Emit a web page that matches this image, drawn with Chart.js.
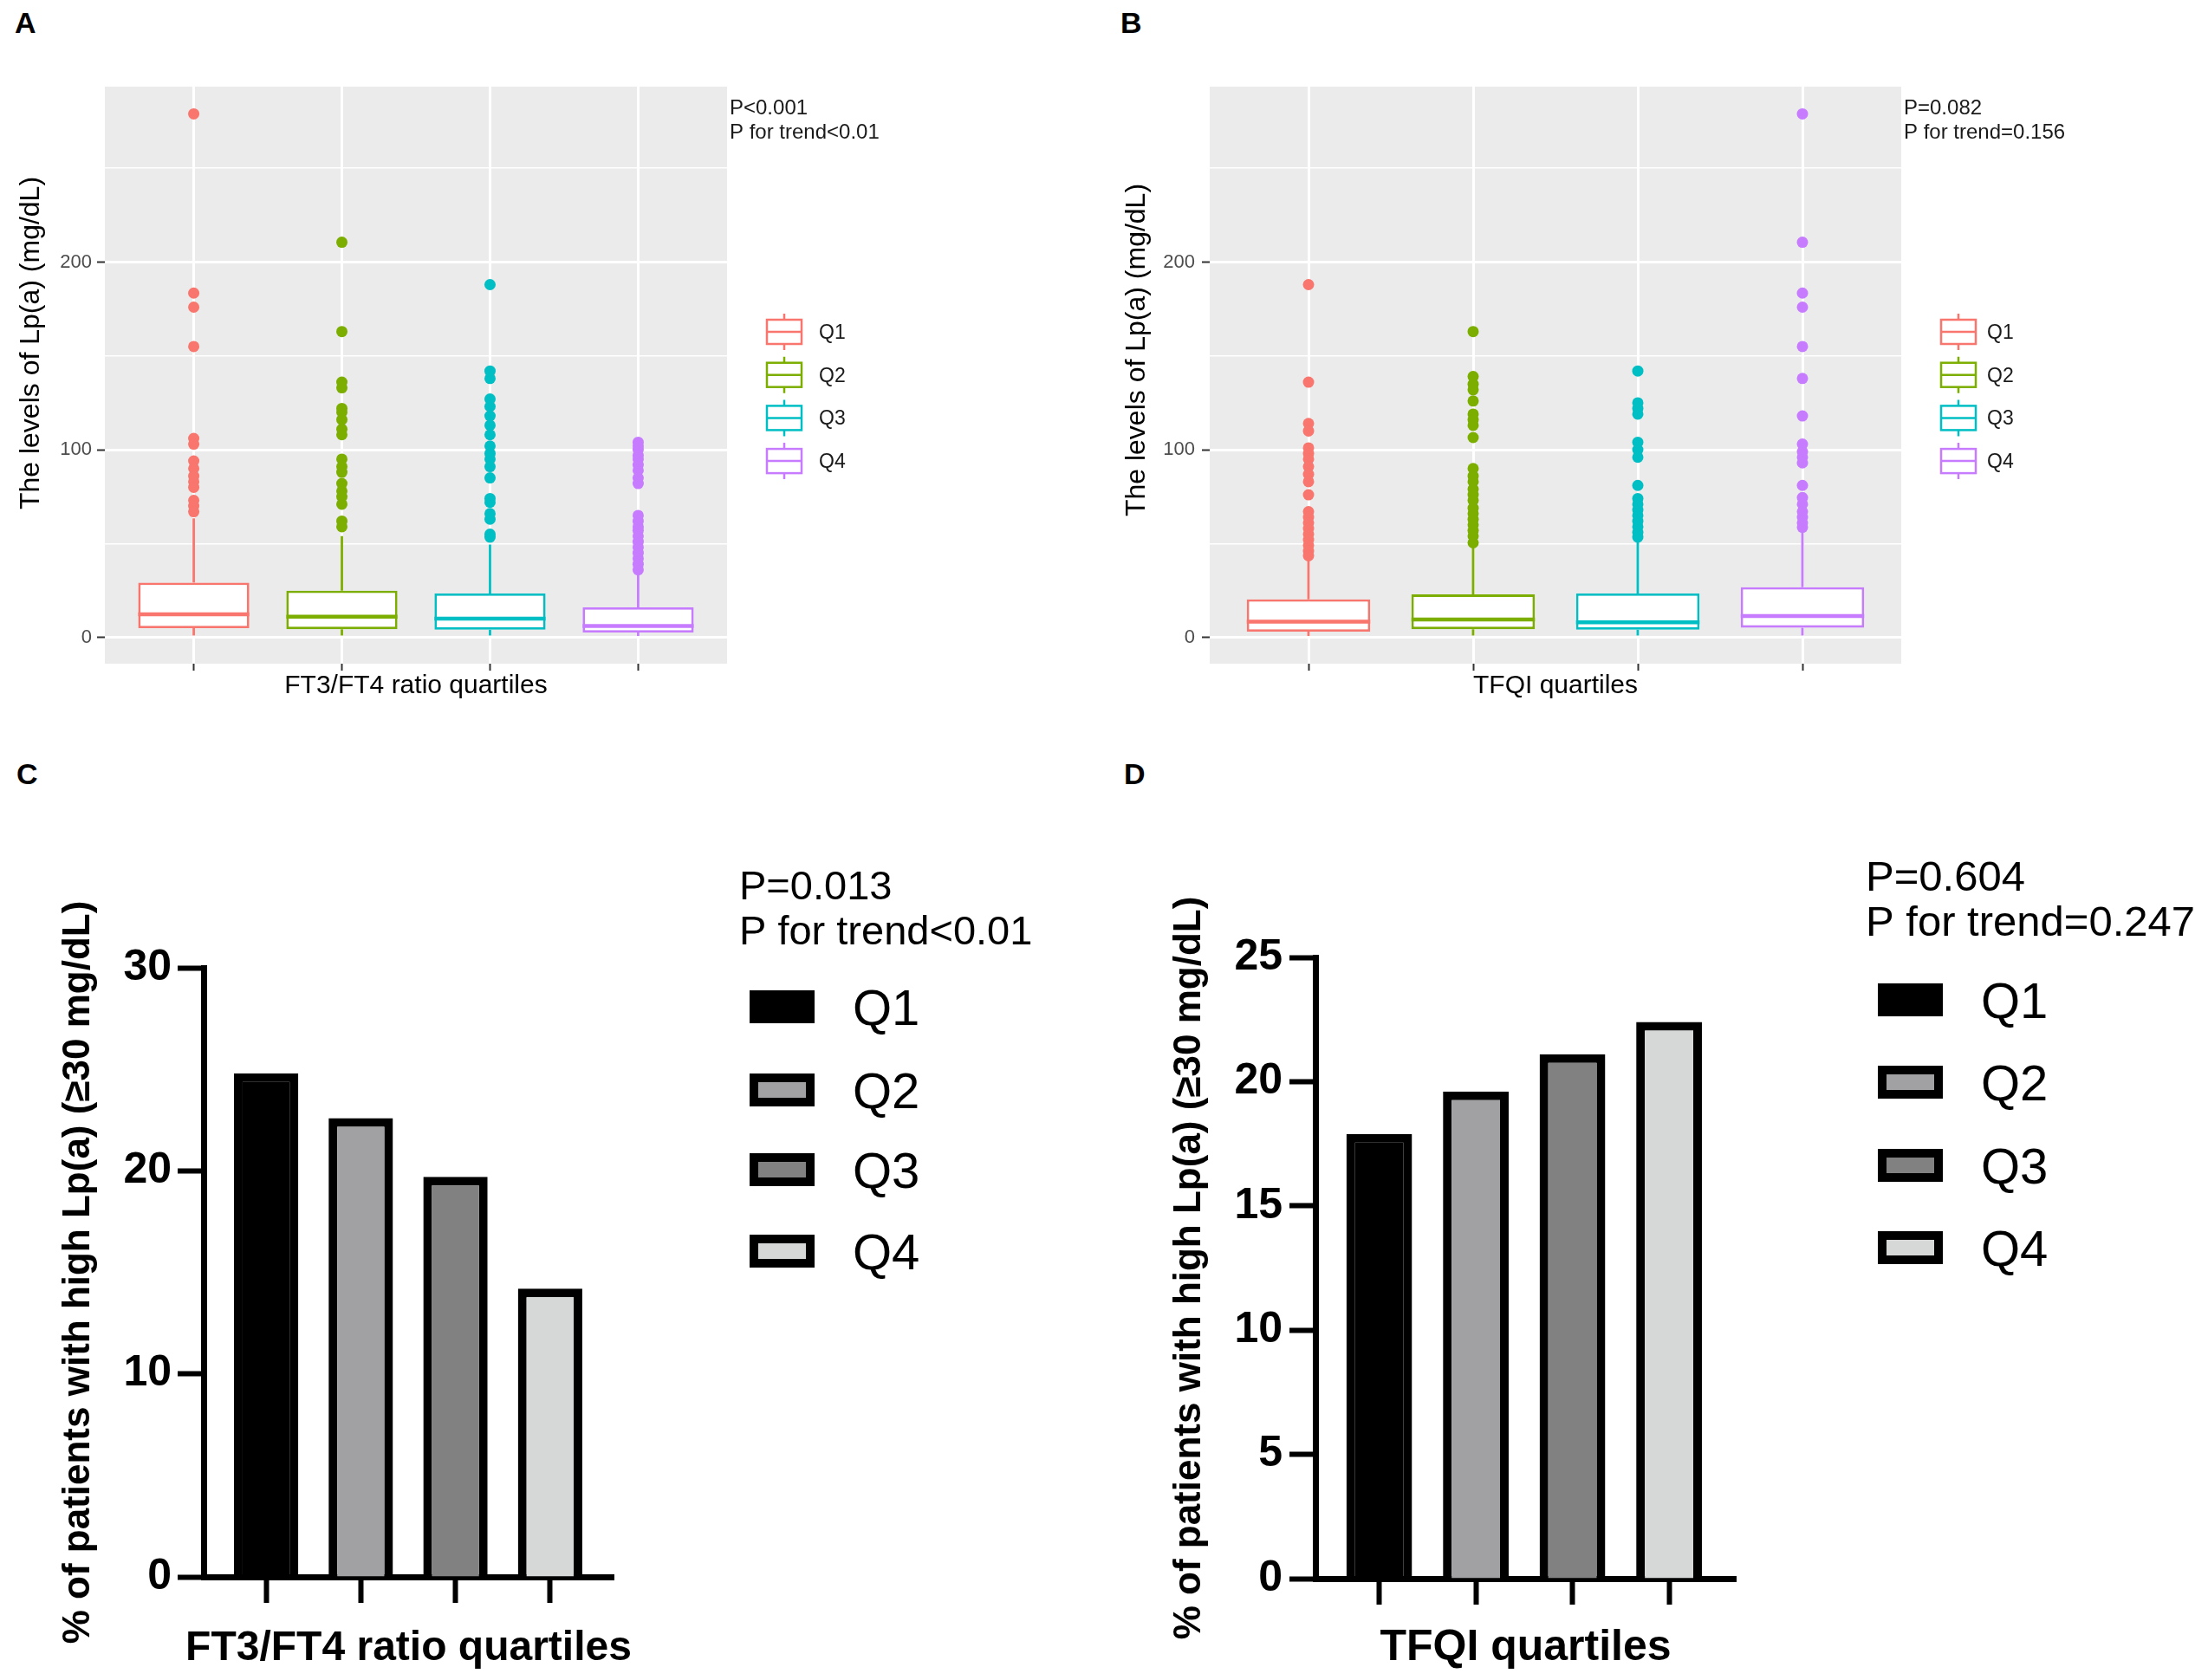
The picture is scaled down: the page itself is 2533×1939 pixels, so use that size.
<!DOCTYPE html>
<html>
<head>
<meta charset="utf-8">
<script src="https://cdn.jsdelivr.net/npm/chart.js@4.4.0/dist/chart.umd.min.js"></script>
<style>
  body { margin: 0; background: #fff; width: 2533px; height: 1939px; position: relative; overflow: hidden; }
  .pane { position: absolute; }
  .tag { position: absolute; font: bold 34px "Liberation Sans", Arial, sans-serif; line-height: 34px; color: #000; }
</style>
</head>
<body>
<div class="tag" style="left:17px;top:9px">A</div>
<div class="tag" style="left:1293px;top:9px">B</div>
<div class="tag" style="left:19px;top:876px">C</div>
<div class="tag" style="left:1297px;top:876px">D</div>

<div class="pane" style="left:0;top:0"><canvas id="chartA" width="1266" height="860"></canvas></div>
<div class="pane" style="left:1266px;top:0"><canvas id="chartB" width="1267" height="860"></canvas></div>
<div class="pane" style="left:0;top:860px"><canvas id="chartC" width="1266" height="1079"></canvas></div>
<div class="pane" style="left:1266px;top:860px"><canvas id="chartD" width="1267" height="1079"></canvas></div>

<script>
const FONT = '"Liberation Sans", Arial, Helvetica, sans-serif';

// groups
const quartiles = ['Q1', 'Q2', 'Q3', 'Q4'];
const boxColors = ['#F8766D', '#7CAE00', '#00BFC4', '#C77CFF'];
const barFills = ['#000000', '#A1A1A4', '#818181', '#D6D7D7'];

// A: Lp(a) by FT3/FT4 ratio quartiles -> [lower whisker, Q1, median, Q3, upper whisker]
const ratioBoxStats = [
  [1.0, 4.9, 12.3, 29.2, 63.5],
  [1.0, 4.4, 11.1, 24.9, 54.0],
  [1.0, 4.1, 10.0, 23.4, 49.5],
  [0.8, 2.6, 6.1, 16.0, 34.0]
];
const ratioOutliers = [
  [279, 183.5, 176, 155, 106, 103, 94, 90, 86, 83, 80, 73, 70, 67],
  [210.6, 163, 136, 133, 122, 120, 116, 111, 108, 95, 91, 88, 82, 78, 75, 71, 62, 59],
  [188, 142, 138, 127, 123, 118, 113, 108, 102, 98, 95, 91, 85, 74, 72, 66, 63, 55, 53.4],
  [104, 102, 100, 97, 95, 92, 89, 85, 82, 65, 62, 59, 57, 54, 51, 48, 45, 42, 39, 36]
];

// B: Lp(a) by TFQI quartiles
const tfqiBoxStats = [
  [0.8, 3.1, 8.4, 20.3, 41.8],
  [1.0, 4.4, 9.5, 22.9, 48.7],
  [1.0, 4.1, 8.0, 23.4, 51.8],
  [1.0, 5.2, 11.4, 26.8, 57.2]
];
const tfqiOutliers = [
  [188, 136, 114, 110, 101, 98, 95, 91, 87, 83, 76, 67, 64, 61, 58, 55, 52, 49, 46, 43.5],
  [163, 139, 135, 132, 126, 119, 116, 113, 106.5, 90, 86, 83, 79, 76, 73, 69, 66, 63, 60, 57, 54, 50.4],
  [142, 125, 122, 119, 104, 100, 96, 81, 74, 71, 68, 65, 62, 59, 56, 53.4],
  [279, 210.6, 183.5, 176, 155, 138, 118, 103, 99, 96, 93, 81, 74.5, 71, 67, 64, 61, 58.7]
];
const boxTicks = [0, 50, 100, 150, 200, 250];

// C / D: % of patients with Lp(a) >= 30 mg/dL
const ratioHighPct = [24.8, 22.6, 19.7, 14.2];
const tfqiHighPct = [17.9, 19.6, 21.1, 22.4];

const panelBg = {
  id: 'panelBg',
  beforeDraw(chart) {
    const { ctx, chartArea: a } = chart;
    ctx.save();
    ctx.fillStyle = '#EBEBEB';
    ctx.fillRect(a.left, a.top, a.width, a.height);
    ctx.restore();
  }
};

function boxOverlay(cfg) {
  return {
    id: 'boxOverlay',
    afterDraw(chart) {
      const ctx = chart.ctx;
      ctx.save();
      ctx.fillStyle = '#1A1A1A';
      ctx.font = `24px ${FONT}`;
      ctx.textAlign = 'left';
      ctx.textBaseline = 'alphabetic';
      cfg.pLines.forEach((t, k) => ctx.fillText(t, cfg.pX, cfg.pY + k * 28));

      // y axis title
      ctx.save();
      ctx.translate(cfg.yTitleX, cfg.yTitleY);
      ctx.rotate(-Math.PI / 2);
      ctx.textAlign = 'center';
      ctx.textBaseline = 'middle';
      ctx.font = `32px ${FONT}`;
      ctx.fillStyle = '#000';
      ctx.fillText('The levels of Lp(a) (mg/dL)', 0, 0);
      ctx.restore();

      // legend with small box glyphs
      quartiles.forEach((q, i) => {
        const cx = cfg.legX, cy = cfg.legY + i * 49.7;
        ctx.strokeStyle = boxColors[i];
        ctx.lineWidth = 2.5;
        ctx.fillStyle = '#fff';
        ctx.fillRect(cx - 20, cy - 14, 40, 28);
        ctx.strokeRect(cx - 20, cy - 14, 40, 28);
        ctx.beginPath();
        ctx.moveTo(cx, cy - 21); ctx.lineTo(cx, cy - 14);
        ctx.moveTo(cx, cy + 14); ctx.lineTo(cx, cy + 21);
        ctx.moveTo(cx - 20, cy); ctx.lineTo(cx + 20, cy);
        ctx.stroke();
        ctx.fillStyle = '#1A1A1A';
        ctx.font = `23px ${FONT}`;
        ctx.fillText(q, cfg.legTextX, cy + 8);
      });
      ctx.restore();
    }
  };
}

function makeBoxChart(id, stats, outliers, xTitle, geo, overlay) {
  const datasets = [];
  quartiles.forEach((q, i) => {
    datasets.push({
      type: 'scatter',
      label: q + ' outliers',
      data: outliers[i].map(v => ({ x: i + 1, y: v })),
      pointRadius: 6.5,
      pointBackgroundColor: boxColors[i],
      pointBorderWidth: 0,
      order: 1
    });
  });
  quartiles.forEach((q, i) => {
    const [lo, q1, med, q3, hi] = stats[i];
    const x = i + 1;
    datasets.push({
      type: 'line',
      label: q + ' whiskers',
      data: [{ x, y: lo }, { x, y: q1 }, { x, y: null }, { x, y: q3 }, { x, y: hi }],
      borderColor: boxColors[i],
      borderWidth: 2.8,
      pointRadius: 0,
      order: 2
    });
    datasets.push({
      type: 'line',
      label: q + ' median',
      data: [{ x: x - 0.375, y: med }, { x: x + 0.375, y: med }],
      borderColor: boxColors[i],
      borderWidth: 4.5,
      pointRadius: 0,
      order: 2
    });
  });
  datasets.push({
    type: 'bar',
    label: 'IQR',
    data: stats.map((s, i) => ({ x: i + 1, y: [s[1], s[3]] })),
    backgroundColor: '#ffffff',
    borderColor: boxColors,
    borderWidth: 2.8,
    borderSkipped: false,
    barPercentage: 0.75,
    categoryPercentage: 1,
    order: 3
  });

  return new Chart(document.getElementById(id), {
    type: 'bar',
    data: { datasets },
    plugins: [panelBg, boxOverlay(overlay)],
    options: {
      responsive: false,
      animation: false,
      events: [],
      layout: { padding: geo.padding },
      plugins: { legend: { display: false }, tooltip: { enabled: false } },
      scales: {
        x: {
          type: 'linear',
          min: 0.4,
          max: 4.6,
          offset: false,
          afterBuildTicks: s => { s.ticks = quartiles.map((q, i) => ({ value: i + 1 })); },
          ticks: { callback: () => '' },
          grid: { offset: false, color: '#ffffff', lineWidth: 3, tickColor: '#333333', tickLength: 8, tickWidth: 2 },
          border: { display: false },
          title: { display: true, text: xTitle, color: '#000', font: { family: FONT, size: 30 }, padding: 0 },
          afterFit: s => { s.height = 44; }
        },
        y: {
          min: -14,
          max: 293.5,
          afterBuildTicks: s => { s.ticks = boxTicks.map(v => ({ value: v })); },
          ticks: {
            callback: v => (v % 100 === 0 ? String(v) : ''),
            color: '#4D4D4D',
            font: { family: FONT, size: 22 },
            padding: geo.tickPad
          },
          grid: {
            color: '#ffffff',
            lineWidth: c => (c.tick && c.tick.value % 100 === 0 ? 3 : 1.5),
            tickColor: c => (c.tick && c.tick.value % 100 === 0 ? '#333333' : 'rgba(0,0,0,0)'),
            tickLength: 9,
            tickWidth: 2
          },
          border: { display: false },
          afterFit: s => { s.width = geo.yWidth; }
        }
      }
    }
  });
}

function barOverlay(cfg) {
  return {
    id: 'barOverlay',
    afterDraw(chart) {
      const { ctx, chartArea } = chart;
      ctx.save();
      ctx.fillStyle = '#000';
      ctx.font = `${cfg.pSize}px ${FONT}`;
      ctx.textAlign = 'left';
      ctx.textBaseline = 'alphabetic';
      cfg.pLines.forEach((t, k) => ctx.fillText(t, cfg.pX, cfg.pY + k * 52));
      quartiles.forEach((q, i) => {
        const cy = cfg.legY[i];
        ctx.fillStyle = '#000';
        ctx.fillRect(cfg.legX, cy - 19, 75, 38);
        ctx.fillStyle = barFills[i];
        ctx.fillRect(cfg.legX + 10, cy - 9, 55, 18);
        ctx.fillStyle = '#000';
        ctx.font = `58px ${FONT}`;
        ctx.fillText(q, cfg.legTextX, cy + 21);
      });
      // x axis title (wider than the plot, so not squeezed into the axis width)
      ctx.font = `bold ${cfg.xTitleSize}px ${FONT}`;
      ctx.textAlign = 'center';
      ctx.textBaseline = 'middle';
      ctx.fillText(cfg.xTitle, (chartArea.left + chartArea.right) / 2, cfg.xTitleY);
      ctx.restore();
    }
  };
}

function makeBarChart(id, values, yMax, yStep, xMax, geo, overlay) {
  return new Chart(document.getElementById(id), {
    type: 'bar',
    data: {
      datasets: [{
        label: '% high Lp(a)',
        data: values.map((v, i) => ({ x: i, y: v })),
        backgroundColor: barFills,
        borderColor: '#000',
        borderWidth: 10,
        borderSkipped: 'start',
        barPercentage: 0.68,
        categoryPercentage: 1
      }]
    },
    plugins: [barOverlay(overlay)],
    options: {
      responsive: false,
      animation: false,
      events: [],
      layout: { padding: geo.padding },
      plugins: { legend: { display: false }, tooltip: { enabled: false } },
      scales: {
        x: {
          type: 'linear',
          min: -0.66,
          max: xMax,
          offset: false,
          z: 1,
          afterBuildTicks: s => { s.ticks = quartiles.map((q, i) => ({ value: i })); },
          ticks: { callback: () => '' },
          grid: { offset: false, drawOnChartArea: false, tickLength: 30, tickWidth: 6, tickColor: '#000' },
          border: { display: true, color: '#000', width: 7 },
          afterFit: s => { s.height = geo.xHeight; }
        },
        y: {
          min: 0,
          max: yMax,
          z: 1,
          ticks: { stepSize: yStep, color: '#000', font: { family: FONT, size: 50, weight: 'bold' }, padding: geo.tickPad },
          grid: { drawOnChartArea: false, tickLength: 30, tickWidth: 6, tickColor: '#000' },
          border: { display: true, color: '#000', width: 7 },
          title: {
            display: true,
            text: '% of patients with high Lp(a) (≥30 mg/dL)',
            color: '#000',
            font: { family: FONT, size: 44, weight: 'bold' },
            padding: { top: geo.yTitlePad, bottom: 0 }
          },
          afterFit: s => { s.width = geo.yWidth; }
        }
      }
    }
  });
}

makeBoxChart('chartA', ratioBoxStats, ratioOutliers, 'FT3/FT4 ratio quartiles',
  { padding: { left: 0, top: 100, right: 427, bottom: 50 }, yWidth: 121, tickPad: 6 },
  { pLines: ['P<0.001', 'P for trend<0.01'], pX: 842, pY: 132, yTitleX: 36, yTitleY: 396, legX: 905, legY: 383, legTextX: 945 });

makeBoxChart('chartB', tfqiBoxStats, tfqiOutliers, 'TFQI quartiles',
  { padding: { left: 0, top: 100, right: 339, bottom: 50 }, yWidth: 130, tickPad: 8 },
  { pLines: ['P=0.082', 'P for trend=0.156'], pX: 931, pY: 132, yTitleX: 46, yTitleY: 404, legX: 994, legY: 383, legTextX: 1027 });

makeBarChart('chartC', ratioHighPct, 30, 10, 3.67,
  { padding: { left: 0, top: 257, right: 558, bottom: 7 }, yWidth: 235, xHeight: 112, tickPad: 7, yTitlePad: 64 },
  { pLines: ['P=0.013', 'P for trend<0.01'], pSize: 47, pX: 853, pY: 178, legX: 865, legY: [302, 398, 490, 584], legTextX: 984,
    xTitle: 'FT3/FT4 ratio quartiles', xTitleSize: 48, xTitleY: 1043 });

makeBarChart('chartD', tfqiHighPct, 25, 5, 3.69,
  { padding: { left: 0, top: 245, right: 530, bottom: 8 }, yWidth: 252, xHeight: 109, tickPad: 8, yTitlePad: 80 },
  { pLines: ['P=0.604', 'P for trend=0.247'], pSize: 49, pX: 887, pY: 168, legX: 901, legY: [294, 389, 485, 580], legTextX: 1020,
    xTitle: 'TFQI quartiles', xTitleSize: 50, xTitleY: 1042 });
</script>
</body>
</html>
